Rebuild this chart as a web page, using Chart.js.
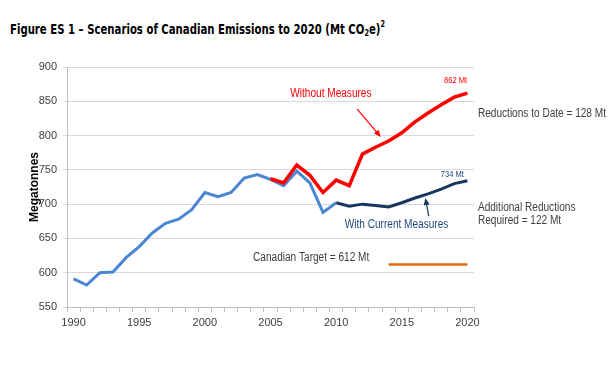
<!DOCTYPE html>
<html>
<head>
<meta charset="utf-8">
<script src="https://cdn.jsdelivr.net/npm/chart.js@4.4.0/dist/chart.umd.min.js"></script>
<style>
    html, body { margin: 0; padding: 0; background: #fff; }
    #wrap { position: relative; width: 614px; height: 366px; }
    #title {
        position: absolute; left: 10px; top: 19px;
        font: bold 14px "DejaVu Sans", sans-serif;
        color: #000; white-space: nowrap;
        transform-origin: 0 0;
    }
    #title sub { font-size: 9px; vertical-align: -2px; }
    #title sup { font-size: 9px; vertical-align: 7px; }
    canvas { position: absolute; left: 0; top: 0; }
</style>
</head>
<body>
<div id="wrap">
    <div id="title">Figure ES 1 – Scenarios of Canadian Emissions to 2020 (Mt CO<sub>2</sub>e)<sup>2</sup></div>
    <canvas id="emissionsChart" width="614" height="366"></canvas>
</div>
<script>
// years on the x axis
const years = [1990, 1991, 1992, 1993, 1994, 1995, 1996, 1997, 1998, 1999,
               2000, 2001, 2002, 2003, 2004, 2005, 2006, 2007, 2008, 2009,
               2010, 2011, 2012, 2013, 2014, 2015, 2016, 2017, 2018, 2019, 2020];

// historical emissions 1990-2010
const historical = [591, 582, 600, 601, 622, 638, 658, 672, 678, 692,
                    717, 711, 717, 738, 743, 736, 727, 748, 731, 688,
                    702, null, null, null, null, null, null, null, null, null, null];

// projection without measures 2005-2020
const withoutMeasures = [null, null, null, null, null, null, null, null, null, null,
                         null, null, null, null, null, 737, 731, 757, 742, 717,
                         735, 727, 773, 783, 792, 804, 820, 833, 845, 856, 862];

// projection with current measures 2010-2020
const withCurrentMeasures = [null, null, null, null, null, null, null, null, null, null,
                             null, null, null, null, null, null, null, null, null, null,
                             702, 697, 700, 698, 696, 702, 709, 715, 722, 730, 734];

// Canadian target line 2014-2020
const target = [null, null, null, null, null, null, null, null, null, null,
                null, null, null, null, null, null, null, null, null, null,
                null, null, null, null, 612, 612, 612, 612, 612, 612, 612];

const yTicks = [550, 600, 650, 700, 750, 800, 850, 900];

const FONT = '"Liberation Sans", Arial, sans-serif';
const SQUEEZE = 0.84;   // chart text in the source is a narrow face

// squeeze the title to the width it has in the source
const titleEl = document.getElementById('title');
titleEl.style.transform = 'scaleX(' + (375 / titleEl.getBoundingClientRect().width) + ')';

// text notes and arrows placed in data space (x = year, y = Mt)
const notes = [
    { text: 'Without Measures', year: 2009.6, y: 861, color: '#ff0000', size: 12, align: 'center' },
    { text: '862 Mt', year: 2019.1, y: 881, color: '#ff0000', size: 9, align: 'center' },
    { text: 'Reductions to Date = 128 Mt', year: 2020.8, y: 832, color: '#404040', size: 12, align: 'left' },
    { text: '734 Mt', year: 2018.85, y: 743.5, color: '#1f497d', size: 9, align: 'center' },
    { text: 'Additional Reductions', year: 2020.8, y: 695, color: '#404040', size: 12, align: 'left' },
    { text: 'Required = 122 Mt', year: 2020.8, y: 675.5, color: '#404040', size: 12, align: 'left' },
    { text: 'With Current Measures', year: 2014.6, y: 670.5, color: '#1f497d', size: 12, align: 'center' },
    { text: 'Canadian Target = 612 Mt', year: 2003.67, y: 622, color: '#404040', size: 12, align: 'left' }
];

const arrows = [
    { from: [2011.6, 838.7], to: [2013.4, 798], color: '#ff0000' },
    { from: [2017.05, 682.5], to: [2016.8, 709], color: '#17375e' }
];

const notesPlugin = {
    id: 'notes',
    afterDatasetsDraw(chart) {
        const ctx = chart.ctx;
        const xs = chart.scales.x;
        const ys = chart.scales.y;
        const px = yr => xs.getPixelForValue(yr - years[0]);

        ctx.save();
        ctx.textBaseline = 'middle';
        notes.forEach(n => {
            ctx.save();
            ctx.font = n.size + 'px ' + FONT;
            ctx.fillStyle = n.color;
            ctx.textAlign = n.align;
            ctx.translate(px(n.year), ys.getPixelForValue(n.y));
            ctx.scale(SQUEEZE, 1);
            ctx.fillText(n.text, 0, 0);
            ctx.restore();
        });

        arrows.forEach(a => {
            const x1 = px(a.from[0]), y1 = ys.getPixelForValue(a.from[1]);
            const x2 = px(a.to[0]), y2 = ys.getPixelForValue(a.to[1]);
            const ang = Math.atan2(y2 - y1, x2 - x1);
            ctx.strokeStyle = a.color;
            ctx.fillStyle = a.color;
            ctx.lineWidth = 1.2;
            ctx.beginPath();
            ctx.moveTo(x1, y1);
            ctx.lineTo(x2 - 5 * Math.cos(ang), y2 - 5 * Math.sin(ang));
            ctx.stroke();
            ctx.beginPath();
            ctx.moveTo(x2, y2);
            ctx.lineTo(x2 - 7 * Math.cos(ang) + 3 * Math.sin(ang), y2 - 7 * Math.sin(ang) - 3 * Math.cos(ang));
            ctx.lineTo(x2 - 7 * Math.cos(ang) - 3 * Math.sin(ang), y2 - 7 * Math.sin(ang) + 3 * Math.cos(ang));
            ctx.closePath();
            ctx.fill();
        });
        ctx.restore();
    }
};

function lineSet(label, data, color, width) {
    return {
        label: label,
        data: data,
        borderColor: color,
        backgroundColor: color,
        borderWidth: width,
        pointRadius: 0,
        tension: 0,
        spanGaps: false
    };
}

const ctx = document.getElementById('emissionsChart').getContext('2d');
new Chart(ctx, {
    type: 'line',
    data: {
        labels: years,
        datasets: [
            lineSet('Without Measures', withoutMeasures, '#ff0000', 3.5),
            lineSet('Historical', historical, '#4a86d4', 3),
            lineSet('With Current Measures', withCurrentMeasures, '#17375e', 3),
            lineSet('Canadian Target', target, '#e46c0a', 2.5)
        ]
    },
    options: {
        responsive: false,
        animation: false,
        layout: { padding: { left: 27, top: 67, right: 140, bottom: 30 } },
        plugins: {
            legend: { display: false },
            tooltip: { enabled: false },
            title: { display: false }
        },
        scales: {
            x: {
                offset: true,
                grid: { display: true, drawOnChartArea: false, tickLength: 5, color: '#bfbfbf', offset: true },
                border: { color: '#bfbfbf' },
                ticks: {
                    autoSkip: false,
                    maxRotation: 0,
                    color: '#404040',
                    font: { family: FONT, size: 11 },
                    padding: 4,
                    callback: function(value, index) {
                        return years[index] % 5 === 0 ? String(years[index]) : '';
                    }
                },
                afterFit: scale => { scale.height = 29; }
            },
            y: {
                min: 550,
                max: 900,
                afterBuildTicks: scale => { scale.ticks = yTicks.map(v => ({ value: v })); },
                grid: { color: '#d9d9d9', tickLength: 4, lineWidth: 1 },
                border: { color: '#bfbfbf' },
                ticks: {
                    color: '#404040',
                    font: { family: FONT, size: 11 },
                    padding: 6
                },
                title: {
                    display: true,
                    text: 'Megatonnes',
                    color: '#000',
                    font: { family: FONT, size: 12, weight: 'bold' },
                    padding: { top: 0, bottom: 0 }
                },
                afterFit: scale => { scale.width = 40; }
            }
        }
    },
    plugins: [notesPlugin]
});
</script>
</body>
</html>
